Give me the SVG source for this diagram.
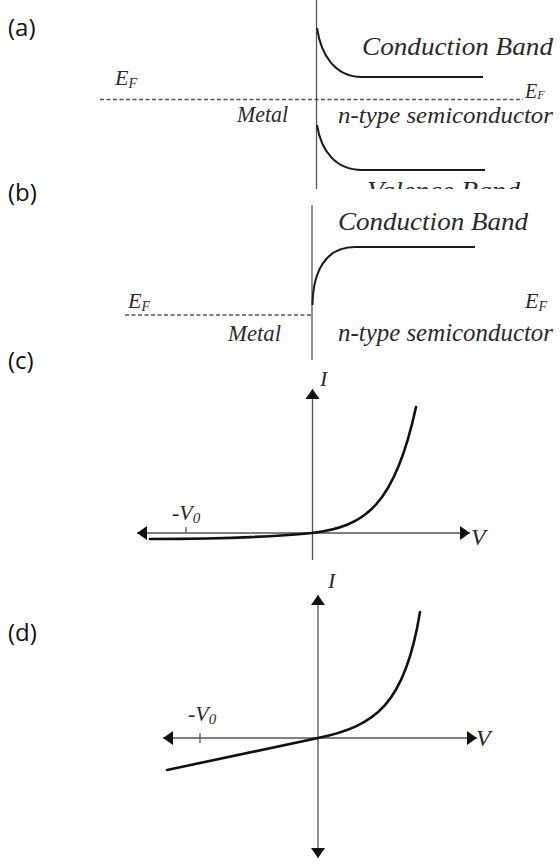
<svg xmlns="http://www.w3.org/2000/svg" width="560" height="865" viewBox="0 0 560 865">
<style>
.lbl{font-family:"Open Sans","Liberation Sans",sans-serif;font-size:24px;fill:#111}
.ti{font-family:"Liberation Serif","Times New Roman",serif;font-style:italic;fill:#2a2a2a}
.ax{stroke:#555;stroke-width:1.3;fill:none}
.band{stroke:#1a1a1a;stroke-width:2;fill:none}
.dash{stroke:#555;stroke-width:1.3;stroke-dasharray:4 2.5;fill:none}
.cv{stroke:#111;stroke-width:2.6;fill:none;stroke-linecap:round;stroke-linejoin:round}
</style>
<defs>
<marker id="ah" viewBox="0 0 10 14" refX="10" refY="7" markerWidth="10" markerHeight="14" orient="auto-start-reverse" markerUnits="userSpaceOnUse"><path d="M0,0 L10,7 L0,14 Z" fill="#111"/></marker>
<clipPath id="clipA"><rect x="0" y="0" width="560" height="189"/></clipPath>
</defs>
<rect width="560" height="865" fill="#fff"/>

<g id="panel-a">
<text class="lbl" x="8" y="36">(a)</text>
<g clip-path="url(#clipA)">
<line class="ax" x1="316.5" y1="0" x2="316.5" y2="189"/>
<line class="dash" x1="100" y1="99.5" x2="523" y2="99.5"/>
<path class="band" d="M317,28 C321,55 335,77 362,77 H483"/>
<path class="band" d="M317,125 C321,150 335,170 362,170 H485"/>
<text class="ti" x="362" y="55" font-size="26" textLength="191" lengthAdjust="spacingAndGlyphs">Conduction Band</text>
<text class="ti" x="338" y="123" font-size="23" textLength="215" lengthAdjust="spacingAndGlyphs">n-type semiconductor</text>
<text class="ti" x="237" y="122" font-size="23" textLength="51" lengthAdjust="spacingAndGlyphs">Metal</text>
<text class="ti" x="367" y="199" font-size="26" textLength="153" lengthAdjust="spacingAndGlyphs">Valence Band</text>
<text class="ti" x="115" y="85" font-size="22">E<tspan font-size="14" dy="3">F</tspan></text>
<text class="ti" x="525" y="98" font-size="20">E<tspan font-size="12" dy="1">F</tspan></text>
</g>
</g>

<g id="panel-b">
<text class="lbl" x="8" y="201">(b)</text>
<line class="ax" x1="312" y1="205" x2="312" y2="360"/>
<line class="dash" x1="125" y1="315" x2="312" y2="315"/>
<path class="band" d="M312.5,305 C313,272 325,247 355,247 H475"/>
<text class="ti" x="338" y="230" font-size="26" textLength="190" lengthAdjust="spacingAndGlyphs">Conduction Band</text>
<text class="ti" x="128" y="308" font-size="22">E<tspan font-size="14" dy="3">F</tspan></text>
<text class="ti" x="525" y="308" font-size="22">E<tspan font-size="14" dy="3">F</tspan></text>
<text class="ti" x="228" y="341" font-size="23" textLength="53" lengthAdjust="spacingAndGlyphs">Metal</text>
<text class="ti" x="338" y="341" font-size="25" textLength="215" lengthAdjust="spacingAndGlyphs">n-type semiconductor</text>
</g>

<g id="panel-c">
<text class="lbl" x="8" y="369">(c)</text>
<line class="ax" x1="312.5" y1="560" x2="312.5" y2="389" marker-end="url(#ah)"/>
<line class="ax" x1="137" y1="533" x2="470" y2="533" marker-start="url(#ah)" marker-end="url(#ah)"/>
<line class="ax" x1="186" y1="527" x2="186" y2="533"/>
<path class="cv" d="M150,539 C200,539 270,537 312,533 C365,527 395,505 416,407"/>
<text class="ti" x="320" y="386" font-size="22">I</text>
<text class="ti" x="471" y="545" font-size="24">V</text>
<text class="ti" x="172" y="520" font-size="22">-V<tspan font-size="15" dy="3">0</tspan></text>
</g>

<g id="panel-d">
<text class="lbl" x="8" y="641">(d)</text>
<line class="ax" x1="318" y1="858" x2="318" y2="595" marker-start="url(#ah)" marker-end="url(#ah)"/>
<line class="ax" x1="163" y1="738" x2="477" y2="738" marker-start="url(#ah)" marker-end="url(#ah)"/>
<line class="ax" x1="200" y1="733" x2="200" y2="743"/>
<path class="cv" d="M167,770 L318,738 C375,726 405,705 420,612"/>
<text class="ti" x="328" y="588" font-size="22">I</text>
<text class="ti" x="476" y="746" font-size="24">V</text>
<text class="ti" x="188" y="721" font-size="22" fill="#45557a">-V<tspan font-size="15" dy="3">0</tspan></text>
</g>
</svg>
